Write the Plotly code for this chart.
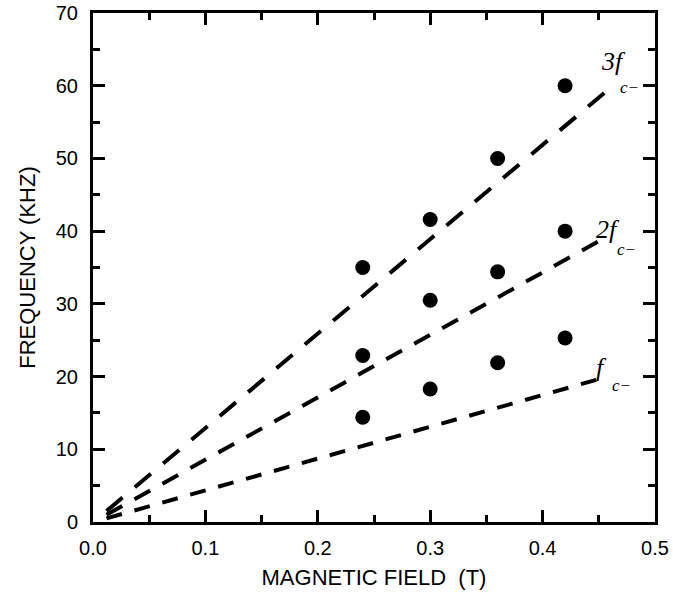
import plotly.graph_objects as go

# Measured data points (magnetic field in T, frequency in kHz)
field = [0.24, 0.30, 0.36, 0.42]
freq_3f = [35.0, 41.6, 50.0, 60.0]
freq_2f = [22.9, 30.5, 34.4, 40.0]
freq_f = [14.4, 18.3, 21.9, 25.3]

# Dashed model lines (endpoints)
line_field = [0.012, 0.458]
line_3f = [1.5, 59.4]
line_2f = [1.0, 39.3]
line_f = [0.5, 20.0]

labels = ["3f", "2f", "f"]

fig = go.Figure()

for ys, dash in [(line_3f, "21px,16px"), (line_2f, "18px,14px"), (line_f, "16px,13px")]:
    fig.add_trace(go.Scatter(x=line_field, y=ys, mode="lines",
                             line=dict(color="black", width=4, dash=dash),
                             showlegend=False, hoverinfo="skip"))

for ys in [freq_3f, freq_2f, freq_f]:
    fig.add_trace(go.Scatter(x=field, y=ys, mode="markers",
                             marker=dict(color="black", size=15, line=dict(width=0)),
                             showlegend=False))

serif = "Liberation Serif, Times New Roman, serif"
# main label text positions (data coords) and subscript positions
main_pos = [(0.450, 61.1), (0.446, 37.9), (0.446, 18.95)]
sub_pos = [(0.467, 59.7), (0.464, 37.5), (0.460, 18.8)]
for lab, (mx, my), (sx, sy) in zip(labels, main_pos, sub_pos):
    fig.add_annotation(x=mx, y=my, text="<i>" + lab + "</i>", showarrow=False,
                       xanchor="left", yanchor="bottom",
                       font=dict(family=serif, size=26, color="black"))
    fig.add_annotation(x=sx, y=sy, text="<i>c−</i>", showarrow=False,
                       xanchor="left", yanchor="middle",
                       font=dict(family=serif, size=17, color="black"))

axis_common = dict(showline=True, linewidth=3, linecolor="black", mirror="ticks",
                   ticks="inside", ticklen=12, tickwidth=3, tickcolor="black",
                   showgrid=False, zeroline=False, automargin=False,
                   tickfont=dict(family="Arial, Liberation Sans, sans-serif", size=20, color="black"))

fig.update_xaxes(range=[0, 0.5], dtick=0.1, tickformat=".1f", ticklabelstandoff=6,
                 minor=dict(dtick=0.05, ticks="inside", ticklen=7, tickwidth=3, tickcolor="black", showgrid=False),
                 title=dict(text="MAGNETIC FIELD  (T)", standoff=12,
                            font=dict(family="Arial, Liberation Sans, sans-serif", size=22, color="black")),
                 **axis_common)
fig.update_yaxes(range=[0, 70], dtick=10, ticklabelstandoff=8,
                 minor=dict(dtick=5, ticks="inside", ticklen=7, tickwidth=3, tickcolor="black", showgrid=False),
                 title=dict(text="FREQUENCY (KHZ)", standoff=15,
                            font=dict(family="Arial, Liberation Sans, sans-serif", size=22, color="black")),
                 **axis_common)

fig.update_layout(width=673, height=597, margin=dict(l=93, r=18, t=13, b=75),
                  plot_bgcolor="white", paper_bgcolor="white")

fig.write_html("out.html")
